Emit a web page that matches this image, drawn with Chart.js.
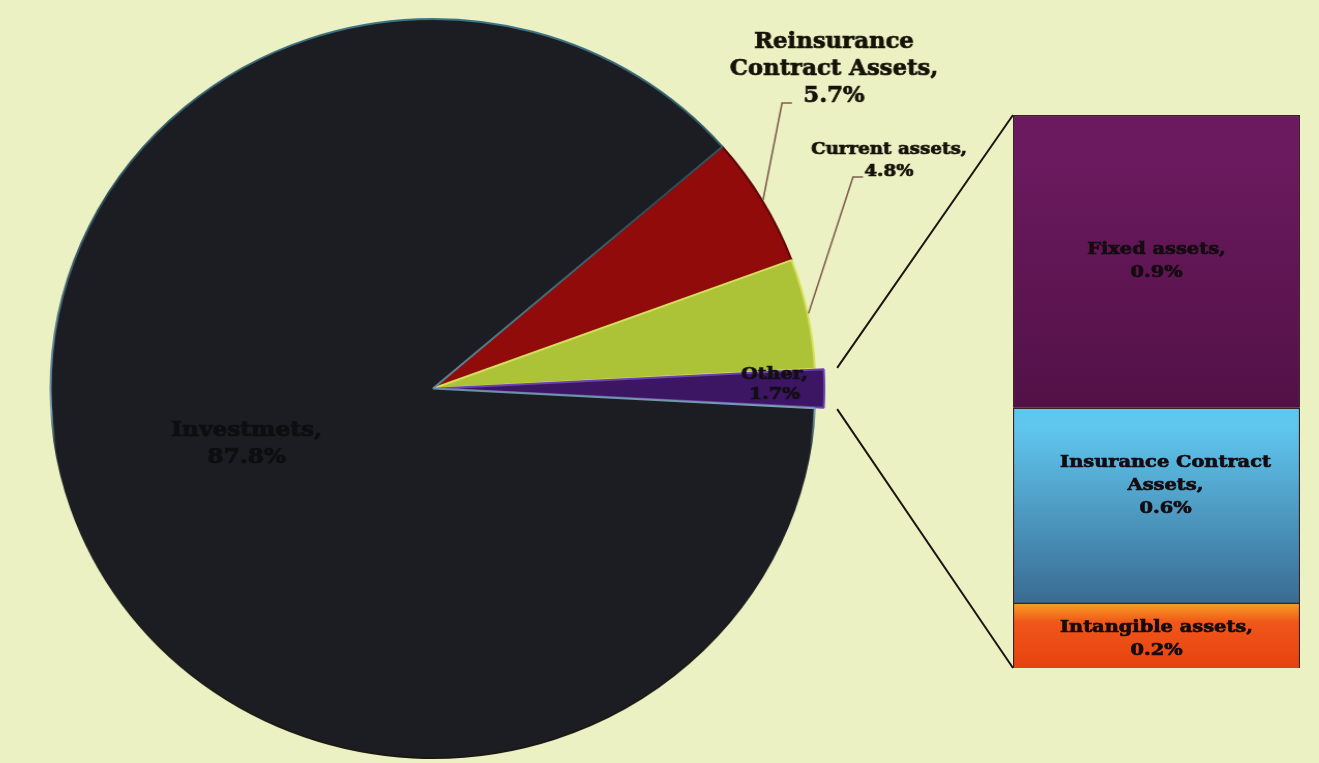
<!DOCTYPE html>
<html><head><meta charset="utf-8">
<script src="https://cdn.jsdelivr.net/npm/chart.js@4.4.1/dist/chart.umd.min.js"></script>
<style>
html,body{margin:0;padding:0;width:1319px;height:763px;overflow:hidden;background:#ecf1c3;}
#pieWrap{position:absolute;left:0;top:9px;width:1000px;height:759px;transform:scaleX(1.035);transform-origin:433px 0;}
#barWrap{position:absolute;left:820px;top:0;width:499px;height:763px;}
</style></head><body>
<div id="pieWrap"><canvas id="pie" width="1000" height="759"></canvas></div>
<div id="barWrap"><canvas id="bar" width="499" height="763"></canvas></div>
<script>
// ---- data ----
const pieLabels = ['Reinsurance Contract Assets', 'Current assets', 'Other', 'Investmets'];
const pieValues = [5.7, 4.8, 1.7, 87.8];
const pieLabelLines = [['Reinsurance', 'Contract Assets,'], ['Current assets,'], ['Other,'], ['Investmets,']];
const otherLabels = ['Intangible assets', 'Insurance Contract Assets', 'Fixed assets'];
const otherValues = [0.2, 0.6, 0.9];
const otherLabelLines = [['Intangible assets,'], ['Insurance Contract', 'Assets,'], ['Fixed assets,']];

// ---- layout / style ----
const SX = 1.035, ORIGX = 433, PIE_TOP = 9, BAR_LEFT = 820;
const OTHER_INDEX = 2, EXPLODE = 18;
const FONT = '"DejaVu Serif", "Liberation Serif", serif';
const pieTotal = pieValues.reduce((a, b) => a + b, 0);
const otherTotal = otherValues.reduce((a, b) => a + b, 0);
const before = pieValues.slice(0, OTHER_INDEX).reduce((a, b) => a + b, 0) + pieValues[OTHER_INDEX] / 2;
const rotation = 90 - before / pieTotal * 360;
const fmt = v => v.toFixed(1) + '%';

function toCanvasX(px) { return ORIGX + (px - ORIGX) / SX; }
function toCanvasY(py) { return py - PIE_TOP; }

function drawLines(ctx, lines, x, yMid, lh, font, color, stretch) {
  ctx.save();
  ctx.translate(x, yMid);
  ctx.scale(stretch || 1, 1);
  ctx.font = font; ctx.fillStyle = color; ctx.strokeStyle = color; ctx.lineWidth = 0.7;
  ctx.textAlign = 'center'; ctx.textBaseline = 'middle';
  const n = lines.length;
  lines.forEach((t, i) => {
    const yy = (i - (n - 1) / 2) * lh;
    ctx.fillText(t, 0, yy);
    ctx.strokeText(t, 0, yy);
  });
  ctx.restore();
}

const pieBorders = ['#5e0606', '#d6df5c', '#6b42b2', null];
function pieBorder(c) {
  if (c.dataIndex !== 3) return pieBorders[c.dataIndex];
  const g = c.chart.ctx.createLinearGradient(0, 0, 0, 759);
  g.addColorStop(0, '#3f7888'); g.addColorStop(0.25, '#2c4c58'); g.addColorStop(0.49, '#5f8898');
  g.addColorStop(0.53, '#7aa2b2'); g.addColorStop(0.58, '#1c2228'); g.addColorStop(1, '#1d1710');
  return g;
}

const pieLabelPlugin = {
  id: 'pieLabels',
  afterDatasetsDraw(chart) {
    const ctx = chart.ctx;
    const arcs = chart.getDatasetMeta(0).data;
    const geo = arcs.map(a => a.getProps(['x', 'y', 'startAngle', 'endAngle', 'outerRadius'], true));
    const outside = [
      {i: 0, cx: 834, cy: 69, lh: 27, font: 'bold 22px ' + FONT, st: 1.0, elbow: [782, 103], end: [792, 103]},
      {i: 1, cx: 889, cy: 161, lh: 22, font: 'bold 17px ' + FONT, st: 1.04, elbow: [853, 177], end: [863, 177]}
    ];
    outside.forEach(o => {
      const g = geo[o.i]; const mid = (g.startAngle + g.endAngle) / 2;
      ctx.save();
      ctx.strokeStyle = '#7d5f4c'; ctx.lineWidth = 1.6;
      ctx.beginPath();
      ctx.moveTo(g.x + Math.cos(mid) * (g.outerRadius + 1), g.y + Math.sin(mid) * (g.outerRadius + 1));
      ctx.lineTo(toCanvasX(o.elbow[0]), toCanvasY(o.elbow[1]));
      ctx.lineTo(toCanvasX(o.end[0]), toCanvasY(o.end[1]));
      ctx.stroke();
      ctx.restore();
      drawLines(ctx, pieLabelLines[o.i].concat([fmt(pieValues[o.i])]), toCanvasX(o.cx), toCanvasY(o.cy), o.lh, o.font, '#161208', o.st);
    });
    {
      const g = geo[2]; const mid = (g.startAngle + g.endAngle) / 2; const r = g.outerRadius * 0.893;
      drawLines(ctx, pieLabelLines[2].concat([fmt(pieValues[2])]), g.x + Math.cos(mid) * r, g.y + Math.sin(mid) * r - 4, 20, 'bold 17px ' + FONT, '#120e14', 1.08);
    }
    {
      const g = geo[3]; const mid = (g.startAngle + g.endAngle) / 2; const r = g.outerRadius * 0.515;
      drawLines(ctx, pieLabelLines[3].concat([fmt(pieValues[3])]), g.x + Math.cos(mid) * r, g.y + Math.sin(mid) * r - 6, 27, 'bold 20px ' + FONT, '#0e0e10', 1.12);
    }
  }
};

const pieChart = new Chart(document.getElementById('pie'), {
  type: 'pie',
  data: {
    labels: pieLabels,
    datasets: [{
      data: pieValues,
      backgroundColor: ['#920b0b', '#adc337', '#3c1662', '#1b1d23'],
      borderColor: pieBorder,
      borderWidth: 2,
      offset: pieValues.map((v, i) => i === OTHER_INDEX ? EXPLODE : 0),
      hoverOffset: 0
    }]
  },
  options: {
    responsive: false, animation: false, events: [],
    rotation: rotation,
    layout: {padding: {left: 0, top: 0, bottom: 0, right: 134}},
    plugins: {legend: {display: false}, tooltip: {enabled: false}}
  },
  plugins: [pieLabelPlugin]
});

// ---- bar of "Other" ----
const cum = otherValues.map((v, i) => otherValues.slice(0, i).reduce((a, b) => a + b, 0));
const barGrad = [['#f7a023', '#e6420f'], ['#5fc6ee', '#3a6b92'], ['#6c1a60', '#521146']];
function vgrad(c, i) {
  const ch = c.chart; if (!ch.chartArea || !ch.scales.y) return barGrad[i][1];
  const y = ch.scales.y;
  const top = y.getPixelForValue(cum[i] + otherValues[i]), bot = y.getPixelForValue(cum[i]);
  const g = ch.ctx.createLinearGradient(0, top, 0, bot);
  g.addColorStop(0, barGrad[i][0]);
  g.addColorStop(i === 0 ? 0.3 : 0.1, i === 0 ? '#f0561a' : barGrad[i][0]);
  g.addColorStop(1, barGrad[i][1]);
  return g;
}

const barPlugin = {
  id: 'barExtras',
  beforeDatasetsDraw(chart) {
    const ctx = chart.ctx;
    const arc = pieChart.getDatasetMeta(0).data[OTHER_INDEX];
    const g = arc.getProps(['x', 'y', 'startAngle', 'endAngle', 'outerRadius'], true);
    const mid = (g.startAngle + g.endAngle) / 2;
    const off = EXPLODE / 4;
    const fix = 1 - Math.sin(Math.min(Math.PI, g.endAngle - g.startAngle));
    const R = g.outerRadius + EXPLODE * fix;
    const ox = g.x + Math.cos(mid) * off, oy = g.y + Math.sin(mid) * off;
    const corner = a => {
      const cx = ox + Math.cos(a) * R, cy = oy + Math.sin(a) * R;
      return [ORIGX + (cx - ORIGX) * SX - BAR_LEFT + 1, cy + PIE_TOP];
    };
    const barLeft = chart.chartArea.left;
    const topPix = chart.scales.y.getPixelForValue(otherTotal), botPix = chart.scales.y.getPixelForValue(0);
    const c1 = corner(g.startAngle), c2 = corner(g.endAngle);
    ctx.save();
    ctx.strokeStyle = '#1b1712'; ctx.lineWidth = 2;
    ctx.beginPath();
    ctx.moveTo(c1[0], c1[1]); ctx.lineTo(barLeft, topPix);
    ctx.moveTo(c2[0], c2[1]); ctx.lineTo(barLeft, botPix);
    ctx.stroke();
    ctx.restore();
  },
  afterDatasetsDraw(chart) {
    const ctx = chart.ctx;
    const dy = [4, -20, 0];
    otherValues.forEach((v, i) => {
      const el = chart.getDatasetMeta(i).data[0];
      const p = el.getProps(['x', 'y', 'base'], true);
      const lines = otherLabelLines[i].concat([fmt(v)]);
      drawLines(ctx, lines, p.x + (i === 1 ? 9 : 0), (p.y + p.base) / 2 + dy[i], 23, 'bold 17px ' + FONT, '#140c10', 1.14);
    });
  }
};

new Chart(document.getElementById('bar'), {
  type: 'bar',
  data: {
    labels: ['Other'],
    datasets: otherLabels.map((l, i) => ({
      label: l,
      data: [otherValues[i]],
      backgroundColor: c => vgrad(c, i),
      borderColor: '#3a2226',
      borderWidth: 1.5,
      barPercentage: 1,
      categoryPercentage: 1
    }))
  },
  options: {
    responsive: false, animation: false, events: [],
    layout: {padding: {left: 193, right: 19, top: 115, bottom: 95}},
    plugins: {legend: {display: false}, tooltip: {enabled: false}},
    scales: {
      x: {display: false, stacked: true},
      y: {display: false, stacked: true, min: 0, max: otherTotal}
    }
  },
  plugins: [barPlugin]
});
</script>
</body></html>
